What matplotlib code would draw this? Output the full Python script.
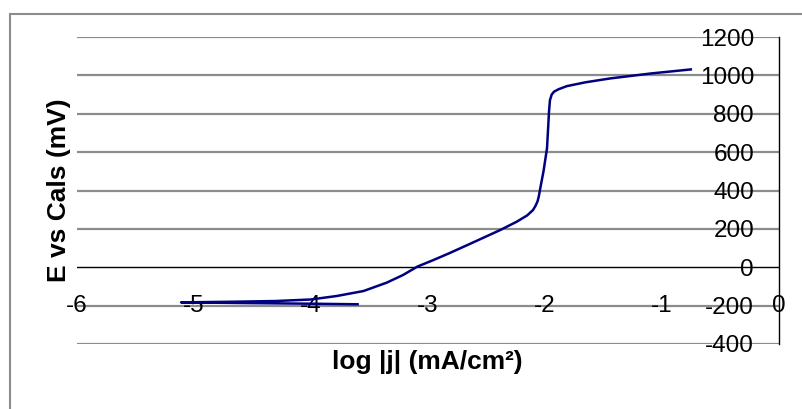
import numpy as np
import matplotlib
matplotlib.use('Agg')
import matplotlib.pyplot as plt
from matplotlib.lines import Line2D

plt.rcParams['font.family'] = ['Liberation Sans', 'DejaVu Sans']
plt.rcParams['axes.unicode_minus'] = False

# polarization curve
log_j = [-3.60, -4.00, -4.50, -5.11, -4.70, -4.30, -4.00, -3.78, -3.55, -3.35,
         -3.21, -3.09, -2.95, -2.82, -2.66, -2.38, -2.24, -2.15, -2.10, -2.08,
         -2.06, -2.05, -2.035, -2.01, -1.98, -1.97, -1.963, -1.955, -1.94, -1.92,
         -1.88, -1.81, -1.65, -1.44, -1.09, -0.75]
e_mv = [-193, -190, -187, -183, -180, -176, -168, -150, -124, -80,
        -40, 3, 38, 72, 116, 194, 237, 270, 298, 318,
        345, 370, 420, 500, 620, 730, 810, 870, 900, 915,
        928, 944, 964, 984, 1010, 1031]

x_ticks = [-6, -5, -4, -3, -2, -1, 0]
y_ticks = [-400, -200, 0, 200, 400, 600, 800, 1000, 1200]

fig = plt.figure(figsize=(8.02, 4.09), dpi=100)
ax = fig.add_axes([77 / 802, 1 - 344 / 409, (778.5 - 77) / 802, (344 - 37) / 409])

# chart area border (Excel style)
fig.add_artist(Line2D([9.5 / 802, 9.5 / 802], [0, 1 - 14 / 409], color='#8c8c8c', lw=1.5))
fig.add_artist(Line2D([9.5 / 802, 1], [1 - 14 / 409, 1 - 14 / 409], color='#8c8c8c', lw=1.5))

for yv in y_ticks:
    if yv == 0:
        ax.axhline(yv, color='black', lw=1.0, zorder=1)
    else:
        ax.axhline(yv, color='#8c8c8c', lw=1.6, zorder=1)

ax.plot(log_j, e_mv, color='#000080', lw=1.8, zorder=3, solid_joinstyle='round')

ax.set_xlim(-6, 0)
ax.set_ylim(-400, 1200)

for s in ['top', 'left', 'bottom']:
    ax.spines[s].set_visible(False)
ax.spines['right'].set_linewidth(1.0)
ax.spines['right'].set_color('black')

ax.set_yticks(y_ticks)
ax.yaxis.set_ticks_position('right')
ax.tick_params(axis='y', length=0, pad=-17.6, labelsize=17.5)
for lab in ax.get_yticklabels():
    lab.set_ha('right')

ax.set_xticks(x_ticks)
ax.tick_params(axis='x', length=0, pad=-27.4, labelsize=17.5)
for lab in ax.get_xticklabels():
    lab.set_va('center')

ax.set_xlabel('log |j| (mA/cm²)', fontsize=19, fontweight='bold')
ax.xaxis.set_label_coords(0.5, -0.02)
ax.set_ylabel('E vs Cals (mV)', fontsize=19, fontweight='bold')
ax.yaxis.set_label_coords(-0.008, 0.5)

fig.savefig('out.png', dpi=100)
